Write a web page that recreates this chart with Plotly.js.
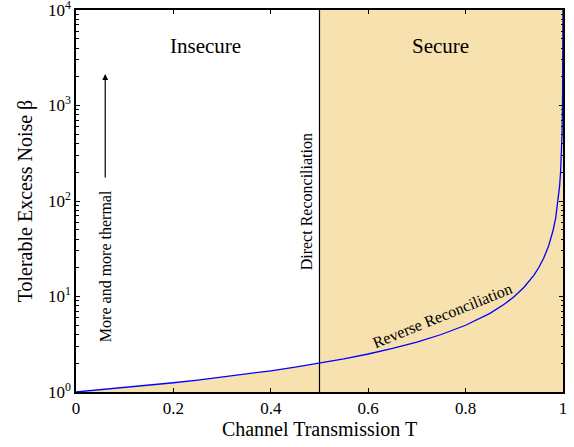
<!DOCTYPE html>
<html><head><meta charset="utf-8">
<script src="https://cdn.plot.ly/plotly-3.0.1.min.js"></script>
<style>body{margin:0;}#c{width:574px;height:447px;}</style>
</head><body><div id="c"></div>
<script>
// Channel transmission T and tolerable excess noise beta
const T = [0, 0.05, 0.1, 0.15, 0.2, 0.25, 0.3, 0.35, 0.4, 0.45, 0.5, 0.55, 0.6, 0.65, 0.7, 0.75, 0.8, 0.85, 0.88, 0.9, 0.92, 0.94, 0.95, 0.96, 0.97, 0.98, 0.985, 0.99, 0.993, 0.995, 0.997, 0.998, 0.999, 0.9995, 0.9999];
const beta = [1, 1.053, 1.111, 1.176, 1.25, 1.333, 1.429, 1.538, 1.667, 1.818, 2, 2.222, 2.5, 2.857, 3.333, 4, 5, 6.667, 8.333, 10, 12.5, 16.67, 20, 25, 33.3, 50, 66.7, 100, 142.9, 200, 333, 500, 1000, 2000, 10000];
const boundaryT = 0.5;
const yMin = 1, yMax = 10000;
const xTickVals = [0, 0.2, 0.4, 0.6, 0.8, 1];
const xTickText = ["0", "0.2", "0.4", "0.6", "0.8", "1"];
const yTickVals = [1, 10, 100, 1000, 10000];
const yTickText = ["10<sup>0</sup>", "10<sup>1</sup>", "10<sup>2</sup>", "10<sup>3</sup>", "10<sup>4</sup>"];

// secure region polygon: under the curve for T<0.5, full height for T>=0.5
const px = [], py = [];
for (let i = 0; i < T.length; i++) { if (T[i] <= boundaryT) { px.push(T[i]); py.push(beta[i]); } }
px.push(boundaryT, 1, 1, 0); py.push(yMax, yMax, yMin, yMin);

const fillCol = '#F7E1AF';
const data = [
  {x: px, y: py, type: 'scatter', mode: 'lines', fill: 'toself', fillcolor: fillCol, line: {width: 0}, hoverinfo: 'skip'},
  {x: [boundaryT, boundaryT], y: [yMin, yMax], type: 'scatter', mode: 'lines', line: {color: '#000', width: 1.2}},
  {x: T, y: beta, type: 'scatter', mode: 'lines', line: {color: '#0000FF', width: 1.3}}
];
const font = {family: 'Liberation Serif, Times New Roman, serif', color: '#000'};
const f = s => Object.assign({size: s}, font);
const layout = {
  width: 574, height: 447,
  margin: {l: 76, r: 11, t: 10, b: 55},
  showlegend: false,
  paper_bgcolor: '#fff', plot_bgcolor: '#fff',
  font: f(17),
  xaxis: {
    range: [0, 1], tickvals: xTickVals, ticktext: xTickText,
    ticks: 'inside', ticklen: 4, tickwidth: 1, tickcolor: '#000',
    mirror: 'allticks', showline: true, linecolor: '#000', linewidth: 1.6,
    showgrid: false, zeroline: false, ticklabeloverflow: 'allow',
    tickfont: f(17),
    title: {text: 'Channel Transmission T', font: f(20), standoff: 4}
  },
  yaxis: {
    type: 'log', range: [0, 4], tickvals: yTickVals, ticktext: yTickText,
    ticks: 'inside', ticklen: 4, tickwidth: 1, tickcolor: '#000',
    minor: {ticks: 'inside', ticklen: 2.5, tickcolor: '#000', showgrid: false, dtick: 'D1'},
    mirror: 'allticks', showline: true, linecolor: '#000', linewidth: 1.6,
    showgrid: false, zeroline: false, ticklabeloverflow: 'allow',
    tickfont: f(17),
    title: {text: 'Tolerable Excess Noise β', font: f(20), standoff: 10}
  },
  annotations: [
    {x: 0.265, y: 3.62, xref: 'x', yref: 'y', text: 'Insecure', showarrow: false, font: f(21)},
    {x: 0.749, y: 3.62, xref: 'x', yref: 'y', text: 'Secure', showarrow: false, font: f(21)},
    {x: 0.474, y: 1.995, xref: 'x', yref: 'y', text: 'Direct Reconciliation', textangle: -90, showarrow: false, font: f(16)},
    {x: 0.062, y: 1.32, xref: 'x', yref: 'y', text: 'More and more thermal', textangle: -90, showarrow: false, font: f(16)},
    {x: 0.060, y: 3.33, ax: 0.060, ay: 2.23, xref: 'x', yref: 'y', axref: 'x', ayref: 'y', text: '', showarrow: true, arrowhead: 2, arrowsize: 1, arrowwidth: 1.2, arrowcolor: '#000'},
    {x: 0.752, y: 0.80, xref: 'x', yref: 'y', text: 'Reverse Reconciliation', textangle: -22, showarrow: false, font: f(16)}
  ]
};
Plotly.newPlot('c', data, layout, {displayModeBar: false, staticPlot: true});
</script>
</body></html>
